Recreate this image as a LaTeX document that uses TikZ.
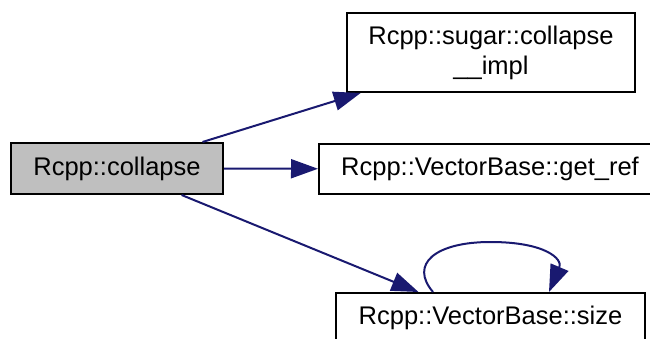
\documentclass[tikz,border=0pt]{standalone}
\usepackage{fontspec}
\setmainfont{Liberation Sans}
\usetikzlibrary{arrows.meta}
\definecolor{edgeblue}{RGB}{25,25,112}
\definecolor{curfill}{RGB}{191,191,191}
\tikzset{
  fnbox/.style={draw=black, line width=2pt, fill=white, inner sep=0pt,
    align=center, font=\fontsize{25.5}{30}\selectfont},
  curbox/.style={fnbox, fill=curfill},
  calledge/.style={draw=edgeblue, line width=2pt,
    -{Triangle[length=27pt,width=19pt]}}
}
\begin{document}
\begin{tikzpicture}[x=1pt,y=-1pt]
  \useasboundingbox (0,0) rectangle (650,339);
  \node[curbox, minimum width=212pt, minimum height=51pt] (col) at (117,168.5) {Rcpp::collapse};
  \node[fnbox, minimum width=288pt, minimum height=79pt] (impl) at (491,52.5) {Rcpp::sugar::collapse\\\_\_impl};
  \node[fnbox, minimum width=342pt, minimum height=50pt] (ref) at (490,169) {Rcpp::VectorBase::get\_ref};
  \node[fnbox, minimum width=309pt, minimum height=50pt] (size) at (490.5,318) {Rcpp::VectorBase::size};
  \draw[calledge] (col) -- (impl);
  \draw[calledge] (col) -- (ref);
  \draw[calledge] (col) -- ([xshift=-72pt]size.north);
  % recursive call of size
  \draw[calledge] ([xshift=-57.5pt]size.north) .. controls +(-24,-28) and +(-55,0) .. ([yshift=50pt]size.north)
    .. controls +(55,0) and +(14,-33) .. ([xshift=58.5pt]size.north);
\end{tikzpicture}
\end{document}
